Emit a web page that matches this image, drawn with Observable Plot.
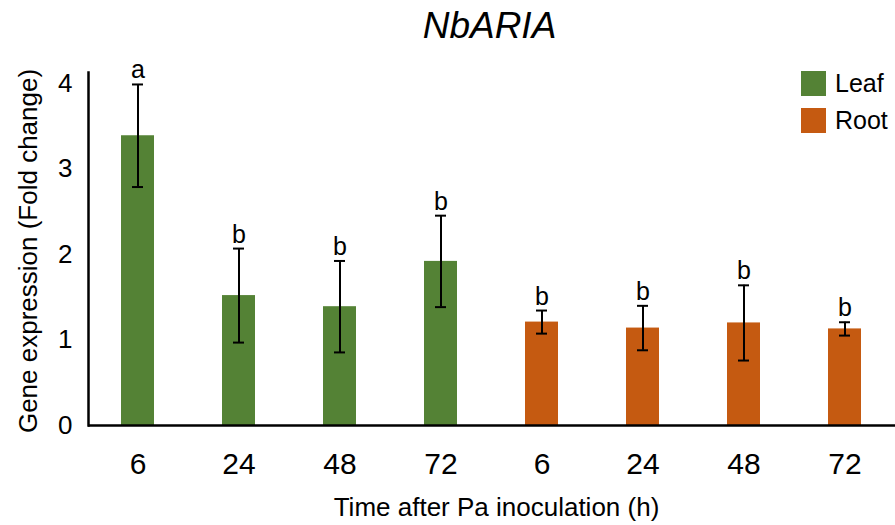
<!DOCTYPE html>
<html>
<head>
<meta charset="utf-8">
<script src="https://cdn.jsdelivr.net/npm/d3@7"></script>
<script src="https://cdn.jsdelivr.net/npm/@observablehq/plot@0.6"></script>
<style>
  html, body { margin: 0; padding: 0; background: #fff; }
  #wrap { position: relative; width: 895px; height: 525px; font-family: "Liberation Sans", Arial, sans-serif; }
  #legend { position: absolute; left: 801px; top: 71px; }
  .item { display: flex; align-items: center; height: 25px; margin-bottom: 12px; font-size: 25px; line-height: 25px; color: #000; }
  .sw { width: 25px; height: 25px; margin-right: 9px; }
</style>
</head>
<body>
<div id="wrap"></div>
<script>
const tissues = ["Leaf", "Leaf", "Leaf", "Leaf", "Root", "Root", "Root", "Root"];
const times = ["6", "24", "48", "72", "6", "24", "48", "72"];
const means = [3.39, 1.52, 1.39, 1.92, 1.21, 1.14, 1.20, 1.13];
const errors = [0.60, 0.55, 0.535, 0.535, 0.135, 0.26, 0.44, 0.078];
const letters = ["a", "b", "b", "b", "b", "b", "b", "b"];
const yTicks = [0, 1, 2, 3, 4];
const legendLabels = ["Leaf", "Root"];
const colors = ["#548235", "#C55A11"];

const data = tissues.map((t, i) => ({
  key: t + "-" + times[i],
  time: times[i],
  tissue: t,
  mean: means[i],
  lo: means[i] - errors[i],
  hi: means[i] + errors[i],
  letter: letters[i]
}));
const keyToTime = new Map(data.map(d => [d.key, d.time]));

const font = '"Liberation Sans", Arial, sans-serif';

const chart = Plot.plot({
  width: 895,
  height: 525,
  marginLeft: 88,
  marginRight: 0,
  marginTop: 72,
  marginBottom: 100,
  style: { fontFamily: font, color: "#000", background: "#fff", overflow: "visible" },
  x: { domain: data.map(d => d.key), paddingInner: 0.67, paddingOuter: 0.326, label: null },
  y: { domain: [0, 4.13], label: null },
  color: { domain: legendLabels, range: colors },
  marks: [
    Plot.barY(data, { x: "key", y: "mean", fill: "tissue" }),
    Plot.ruleX(data, { x: "key", y1: "lo", y2: "hi", stroke: "#000", strokeWidth: 2 }),
    Plot.tickY(data, { x: "key", y: "lo", stroke: "#000", strokeWidth: 2, insetLeft: 11, insetRight: 11 }),
    Plot.tickY(data, { x: "key", y: "hi", stroke: "#000", strokeWidth: 2, insetLeft: 11, insetRight: 11 }),
    Plot.text(data, { x: "key", y: "hi", text: "letter", dy: -6, lineAnchor: "bottom", fontSize: 25, fill: "#000" }),
    Plot.axisX({ tickSize: 0, tickPadding: 27, fontSize: 30, tickFormat: k => keyToTime.get(k), label: null }),
    Plot.axisY({ ticks: yTicks, tickFormat: d3.format("d"), tickSize: 0, tickPadding: 16, fontSize: 26, label: null }),
    Plot.ruleY([0], { stroke: "#000", strokeWidth: 2.5 }),
    Plot.frame({ anchor: "left", stroke: "#000", strokeWidth: 2.5 }),
    Plot.text(["NbARIA"], { frameAnchor: "top", textAnchor: "middle", lineAnchor: "middle", dx: -2.5, dy: -46, fontSize: 37, fontStyle: "italic", fill: "#000" }),
    Plot.text(["Time after Pa inoculation (h)"], { frameAnchor: "bottom", textAnchor: "middle", lineAnchor: "middle", dx: 4.5, dy: 82, fontSize: 26, fill: "#000" }),
    Plot.text(["Gene expression (Fold change)"], { frameAnchor: "left", textAnchor: "middle", lineAnchor: "middle", dx: -60, dy: 2, rotate: -90, fontSize: 26, fill: "#000" })
  ]
});

const wrap = document.getElementById("wrap");
wrap.appendChild(chart);

const legend = document.createElement("div");
legend.id = "legend";
legendLabels.forEach((l, i) => {
  const item = document.createElement("div");
  item.className = "item";
  const sw = document.createElement("div");
  sw.className = "sw";
  sw.style.background = colors[i];
  const tx = document.createElement("span");
  tx.textContent = l;
  item.appendChild(sw);
  item.appendChild(tx);
  legend.appendChild(item);
});
wrap.appendChild(legend);
</script>
</body>
</html>
